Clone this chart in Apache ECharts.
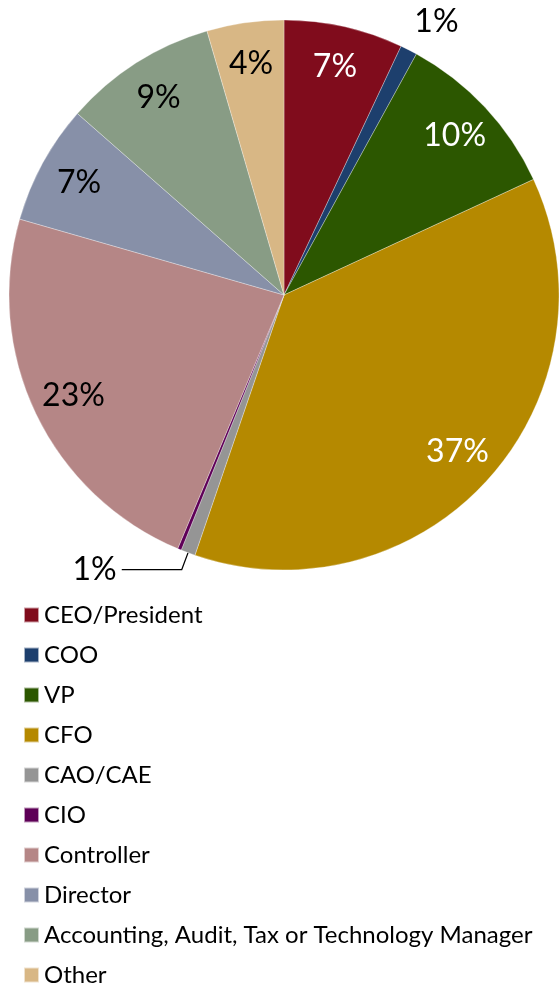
<!DOCTYPE html>
<html>
<head>
<meta charset="utf-8">
<script src="https://cdn.jsdelivr.net/npm/echarts@6/dist/echarts.min.js"></script>
<style>
  html, body { margin: 0; padding: 0; background: #fff; }
  #chart { width: 559px; height: 987px; }
</style>
</head>
<body>
<div id="chart"></div>
<script>
// Respondent titles and their share of responses (percent)
const titles = ['CEO/President', 'COO', 'VP', 'CFO', 'CAO/CAE', 'CIO', 'Controller', 'Director',
  'Accounting, Audit, Tax or Technology Manager', 'Other'];
const shares = [6.96, 0.99, 10.04, 36.94, 0.84, 0.22, 23.0, 6.98, 8.96, 4.49];
const colors = ['#800C1C', '#1D3F6D', '#2C5700', '#B58900', '#959595', '#5E0057', '#B58686', '#8790A8', '#889C85', '#D8B785'];
// White labels on the dark slices
const lightLabel = ['CEO/President', 'VP', 'CFO'];
// Slices labelled outside the pie (the rest get a label inside)
const outsideLabel = ['COO', 'CAO/CAE'];
const noLabel = ['CIO'];

const FONT = 'Lato, "Open Sans", sans-serif';
const pct = v => Math.round(v) + '%';

const chart = echarts.init(document.getElementById('chart'), null, { renderer: 'canvas' });

const pieData = titles.map((name, i) => {
  const item = { name, value: shares[i], itemStyle: { color: colors[i] } };
  if (name === 'COO') {
    item.label = { show: true, position: 'outside', distanceToLabelLine: -9 };
    item.labelLine = { show: false, length: 32, length2: 0 };
  } else if (name === 'CAO/CAE') {
    item.label = { show: true, position: 'outside', distanceToLabelLine: 5 };
    item.labelLine = { show: true, length: 18, length2: 60, lineStyle: { color: '#000', width: 1.2 } };
  }
  return item;
});

// Transparent ring used to place the inside labels near the rim
const labelRing = titles.map((name, i) => ({
  name,
  value: shares[i],
  label: {
    show: !outsideLabel.includes(name) && !noLabel.includes(name),
    color: lightLabel.includes(name) ? '#fff' : '#000'
  }
}));

chart.setOption({
  animation: false,
  backgroundColor: '#fff',
  legend: {
    orient: 'vertical',
    left: 23,
    top: 603,
    padding: 0,
    itemWidth: 15,
    itemHeight: 15,
    itemGap: 16,
    icon: 'rect',
    selectedMode: false,
    data: titles,
    textStyle: { fontFamily: FONT, fontSize: 24, color: '#000', lineHeight: 24 }
  },
  series: [
    {
      type: 'pie',
      center: [284, 295],
      radius: [0, 275],
      startAngle: 90,
      clockwise: true,
      avoidLabelOverlap: false,
      silent: true,
      itemStyle: { borderColor: 'rgba(255,255,255,0.6)', borderWidth: 0.5 },
      label: {
        show: false,
        fontFamily: FONT,
        fontSize: 32,
        color: '#000',
        formatter: p => pct(p.value)
      },
      labelLine: { show: false },
      data: pieData
    },
    {
      type: 'pie',
      center: [284, 295],
      radius: [186, 275],
      startAngle: 90,
      clockwise: true,
      silent: true,
      avoidLabelOverlap: false,
      itemStyle: { color: 'rgba(0,0,0,0)', borderWidth: 0 },
      label: {
        position: 'inside',
        fontFamily: FONT,
        fontSize: 32,
        formatter: p => pct(p.value)
      },
      labelLine: { show: false },
      data: labelRing
    }
  ]
});
</script>
</body>
</html>
